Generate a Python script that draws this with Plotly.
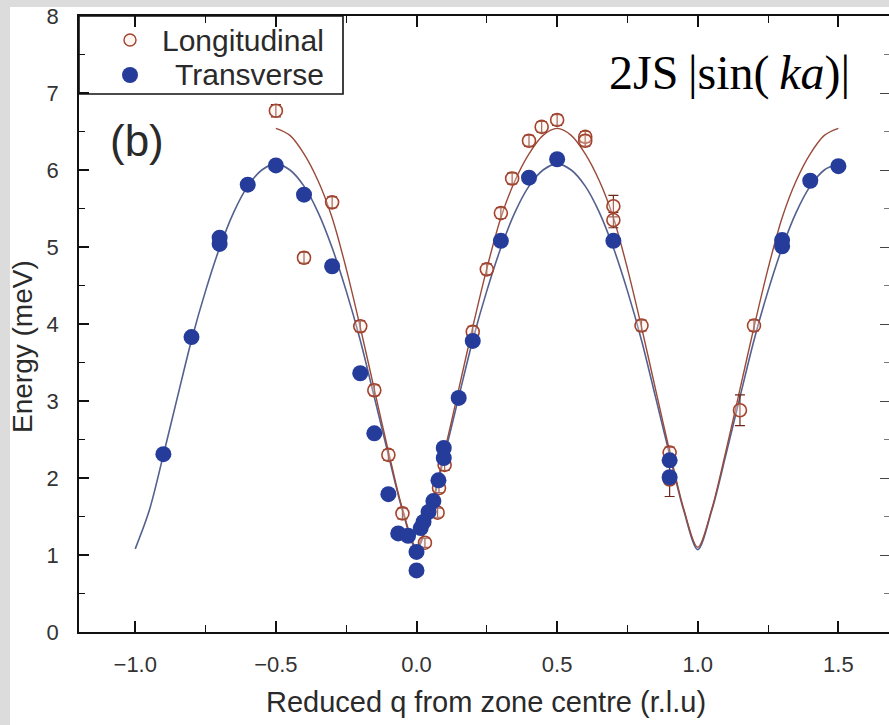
import plotly.graph_objects as go

# ---------------- data ----------------
# Longitudinal modes (open circles, with error bars)
long_q = [-0.5, -0.4, -0.3, -0.2, -0.15, -0.1, -0.05, 0.03, 0.075, 0.08, 0.1,
          0.2, 0.25, 0.3, 0.34, 0.4, 0.445, 0.5, 0.6, 0.6, 0.7, 0.7, 0.8,
          0.9, 0.9, 1.15, 1.2]
long_E = [6.77, 4.86, 5.58, 3.97, 3.14, 2.30, 1.54, 1.16, 1.55, 1.87, 2.17,
          3.90, 4.71, 5.44, 5.89, 6.38, 6.56, 6.65, 6.43, 6.38, 5.53, 5.35, 3.98,
          2.33, 1.98, 2.88, 3.98]
long_err = [0.08, 0.07, 0.07, 0.07, 0.07, 0.07, 0.07, 0.06, 0.06, 0.06, 0.07,
            0.07, 0.07, 0.07, 0.07, 0.07, 0.07, 0.07, 0.07, 0.07, 0.14, 0.10, 0.07,
            0.07, 0.22, 0.20, 0.07]

# Transverse modes (filled circles)
trans_q = [-0.9, -0.8, -0.7, -0.7, -0.6, -0.5, -0.4, -0.3, -0.2, -0.15, -0.1,
           -0.065, -0.03, 0.0, 0.0, 0.015, 0.025, 0.043, 0.06, 0.078, 0.097, 0.097,
           0.15, 0.2, 0.3, 0.4, 0.5, 0.7, 0.9, 0.9, 1.3, 1.3, 1.4, 1.5]
trans_E = [2.31, 3.83, 5.04, 5.12, 5.81, 6.06, 5.68, 4.75, 3.36, 2.58, 1.79,
           1.28, 1.25, 1.04, 0.80, 1.35, 1.43, 1.56, 1.70, 1.97, 2.26, 2.39,
           3.04, 3.78, 5.08, 5.90, 6.14, 5.08, 2.23, 2.01, 5.01, 5.09, 5.86, 6.05]

# Fitted dispersion curves 2JS|sin(ka)|
fitT_q = [-1.0, -0.95, -0.9, -0.85, -0.8, -0.75, -0.7, -0.65, -0.6, -0.55, -0.5,
          -0.45, -0.4, -0.35, -0.3, -0.25, -0.2, -0.15, -0.1, -0.05, 0.0,
          0.05, 0.1, 0.15, 0.2, 0.25, 0.3, 0.35, 0.4, 0.45, 0.5,
          0.55, 0.6, 0.65, 0.7, 0.75, 0.8, 0.85, 0.9, 0.95, 1.0,
          1.05, 1.1, 1.15, 1.2, 1.25, 1.3, 1.35, 1.4, 1.45, 1.5]
fitT_E = [1.08, 1.58, 2.30, 3.05, 3.79, 4.43, 4.99, 5.45, 5.79, 6.00, 6.08,
          6.00, 5.79, 5.45, 4.99, 4.43, 3.79, 3.05, 2.30, 1.58, 1.07,
          1.58, 2.30, 3.05, 3.79, 4.43, 4.99, 5.45, 5.79, 6.00, 6.08,
          6.00, 5.79, 5.45, 4.99, 4.43, 3.79, 3.05, 2.30, 1.58, 1.07,
          1.58, 2.30, 3.05, 3.79, 4.43, 4.99, 5.45, 5.79, 6.00, 6.08]

fitL_q = [-0.5, -0.45, -0.4, -0.35, -0.3, -0.25, -0.2, -0.15, -0.1, -0.05, 0.0,
          0.05, 0.1, 0.15, 0.2, 0.25, 0.3, 0.35, 0.4, 0.45, 0.5,
          0.55, 0.6, 0.65, 0.7, 0.75, 0.8, 0.85, 0.9, 0.95, 1.0,
          1.05, 1.1, 1.15, 1.2, 1.25, 1.3, 1.35, 1.4, 1.45, 1.5]
fitL_E = [6.54, 6.45, 6.21, 5.86, 5.38, 4.72, 3.96, 3.15, 2.35, 1.60, 1.10,
          1.60, 2.35, 3.15, 3.96, 4.72, 5.38, 5.86, 6.21, 6.45, 6.54,
          6.45, 6.21, 5.86, 5.38, 4.72, 3.96, 3.15, 2.35, 1.60, 1.10,
          1.60, 2.35, 3.15, 3.96, 4.72, 5.38, 5.86, 6.21, 6.45, 6.54]

legend_names = ["Longitudinal", "Transverse"]

# ---------------- styling ----------------
W, H = 889, 725
ML, MR, MT, MB = 79, 0, 16, 93
PW, PH = W - ML - MR, H - MT - MB

def px(xp):   # pixel x -> paper
    return (xp - ML) / PW

def py(yp):   # pixel y -> paper
    return (H - MB - yp) / PH

BLUE = "#263c9a"
BROWN = "#a3432e"
TXT = "#2a2a2a"
SANS = "Arial, Liberation Sans, sans-serif"

fig = go.Figure()

fig.add_trace(go.Scatter(x=fitT_q, y=fitT_E, mode="lines",
                         line=dict(color="#55608f", width=1.6, shape="spline", smoothing=0.9),
                         showlegend=False, hoverinfo="skip"))
fig.add_trace(go.Scatter(x=fitL_q, y=fitL_E, mode="lines",
                         line=dict(color="#9a4a3a", width=1.4, shape="spline", smoothing=0.9),
                         showlegend=False, hoverinfo="skip"))

fig.add_trace(go.Scatter(
    x=long_q, y=long_E, mode="markers", name=legend_names[0], showlegend=False,
    marker=dict(symbol="circle", size=13, color="rgba(255,236,226,0.35)", line=dict(color=BROWN, width=1.6)),
    error_y=dict(type="data", array=long_err, visible=True, color="#6e2618", thickness=1.2, width=5),
))
fig.add_trace(go.Scatter(
    x=trans_q, y=trans_E, mode="markers", name=legend_names[1], showlegend=False,
    marker=dict(symbol="circle", size=16, color=BLUE, line=dict(width=0)),
))
# carrier for the right-hand tick axis
fig.add_trace(go.Scatter(x=[], y=[], yaxis="y2", showlegend=False, hoverinfo="skip"))

axis_common = dict(showgrid=False, zeroline=False, showline=True, linecolor="#111", linewidth=1.6,
                   ticks="inside", tickcolor="#111", tickwidth=1.5,
                   tickfont=dict(family=SANS, size=22, color="#333"))

fig.update_layout(
    width=W, height=H,
    margin=dict(l=ML, r=MR, t=MT, b=MB, pad=0),
    paper_bgcolor="#dcdcdc", plot_bgcolor="white",
    showlegend=False,
    xaxis=dict(range=[-1.2, 1.68], dtick=0.5, tick0=0, tickformat=".1f", ticklen=11,
               mirror="ticks", ticklabelstandoff=12,
               minor=dict(ticks="inside", dtick=0.25, tick0=0, ticklen=7, tickcolor="#111", tickwidth=1.3),
               **axis_common),
    yaxis=dict(range=[0, 8], dtick=1, tick0=0, ticklen=10, mirror=False, ticklabelstandoff=14,
               minor=dict(ticks="inside", dtick=0.5, tick0=0, ticklen=6, tickcolor="#111", tickwidth=1.3),
               **axis_common),
    yaxis2=dict(overlaying="y", side="right", anchor="x", range=[0, 8], dtick=1, showline=False,
                showgrid=False, zeroline=False, ticks="inside", ticklen=9, tickwidth=1.4, tickcolor="#444",
                showticklabels=False,
                minor=dict(ticks="inside", dtick=0.5, tick0=0, ticklen=5, tickcolor="#777", tickwidth=1.2)),
)

shapes = [
    # white page behind the figure (grey border strips on left and top)
    dict(type="rect", xref="paper", yref="paper", x0=px(10), x1=px(W + 5), y0=py(H + 5), y1=py(7),
         fillcolor="white", line=dict(width=0), layer="below"),
    # legend box
    dict(type="rect", xref="paper", yref="paper", x0=0, x1=px(343), y0=py(94), y1=1,
         fillcolor="rgba(0,0,0,0)", line=dict(color="#111", width=1.6), layer="above"),
    # legend symbols
    dict(type="circle", xref="paper", yref="paper", xsizemode="pixel", ysizemode="pixel",
         xanchor=px(130), yanchor=py(40), x0=-6, x1=6, y0=-6, y1=6,
         fillcolor="#fff4ef", line=dict(color=BROWN, width=1.4), layer="above"),
    dict(type="circle", xref="paper", yref="paper", xsizemode="pixel", ysizemode="pixel",
         xanchor=px(130), yanchor=py(75), x0=-8, x1=8, y0=-8, y1=8,
         fillcolor=BLUE, line=dict(width=0), layer="above"),
]
fig.update_layout(shapes=shapes)

annotations = [
    dict(text=legend_names[0], x=px(326), y=py(40), xref="paper", yref="paper", xanchor="right", yanchor="middle",
         showarrow=False, font=dict(family=SANS, size=30, color=TXT)),
    dict(text=legend_names[1], x=px(326), y=py(75), xref="paper", yref="paper", xanchor="right", yanchor="middle",
         showarrow=False, font=dict(family=SANS, size=30, color=TXT)),
    dict(text="(b)", x=px(137), y=py(140), xref="paper", yref="paper", xanchor="center", yanchor="middle",
         showarrow=False, font=dict(family=SANS, size=44, color=TXT)),
    dict(text="2JS\u2009|sin(\u2009<i>ka</i>)|", x=px(729), y=py(73), xref="paper", yref="paper",
         xanchor="center", yanchor="middle", showarrow=False,
         font=dict(family="Liberation Serif, Times New Roman, serif", size=48, color="#000")),
    dict(text="Reduced q from zone centre (r.l.u)", x=px(486), y=py(702), xref="paper", yref="paper",
         xanchor="center", yanchor="middle", showarrow=False, font=dict(family=SANS, size=29, color=TXT)),
    dict(text="Energy (meV)", x=px(22), y=py(347), xref="paper", yref="paper", textangle=-90,
         xanchor="center", yanchor="middle", showarrow=False, font=dict(family=SANS, size=28, color=TXT)),
]
fig.update_layout(annotations=annotations)

fig.write_html("out.html")
